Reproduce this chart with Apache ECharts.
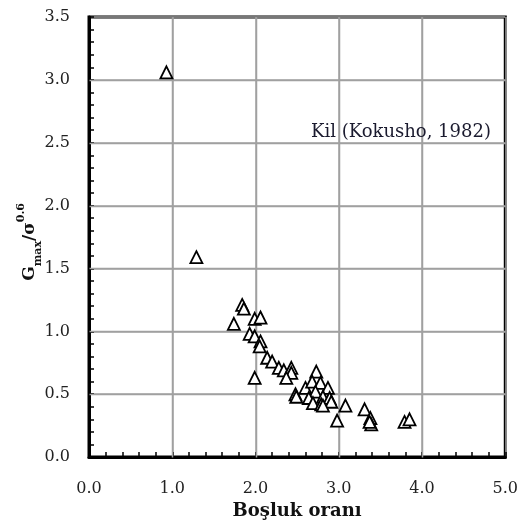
<!DOCTYPE html>
<html><head><meta charset="utf-8">
<script src="https://cdn.jsdelivr.net/npm/echarts@6/dist/echarts.min.js"></script>
<style>html,body{margin:0;padding:0;background:#fff}#c{width:521px;height:525px}</style>
</head><body><div id="c"></div>
<script>
const voidRatio = [0.93,1.29,1.84,1.86,1.74,1.99,2.06,1.93,1.99,2.06,2.05,2.14,2.20,2.28,2.34,2.43,2.43,2.37,1.99,2.48,2.49,2.73,2.60,2.68,2.78,2.72,2.87,2.64,2.81,2.89,2.69,2.79,2.91,2.81,3.08,2.98,3.31,3.38,3.39,3.37,3.79,3.85];
const gRatio    = [3.06,1.59,1.21,1.18,1.06,1.10,1.11,0.98,0.96,0.92,0.88,0.79,0.76,0.71,0.69,0.71,0.67,0.63,0.63,0.50,0.48,0.68,0.55,0.60,0.59,0.52,0.55,0.47,0.48,0.47,0.43,0.42,0.44,0.41,0.41,0.29,0.38,0.31,0.26,0.28,0.28,0.30];
const xTicks = ['0.0','1.0','2.0','3.0','4.0','5.0'];
const yTicks = ['0.0','0.5','1.0','1.5','2.0','2.5','3.0','3.5'];
const note = 'Kil (Kokusho, 1982)';
const xTitle = 'Boşluk oranı';
const yTitle = '{m|G}{sub|max}{m|/σ}{sup|0.6}';

const FONT = 'DejaVu Serif';
const GRAY = '#a0a0a0';
const xMin = Number(xTicks[0]), xMax = Number(xTicks[xTicks.length-1]);
const yMin = Number(yTicks[0]), yMax = Number(yTicks[yTicks.length-1]);
const chart = echarts.init(document.getElementById('c'));
function tick(){ return {show:true, inside:true, length:5, lineStyle:{color:'#000', width:1.5}}; }
function minor(){ return {show:true, splitNumber:5, length:5, lineStyle:{color:'#000', width:1.5}}; }
function split(){ return {show:true, lineStyle:{color:GRAY, width:1.5, type:'solid', opacity:1}}; }
const gridItems = xTicks.slice(1,-1).map(t=>[0, Number(t)])
  .concat(yTicks.slice(1,-1).map(t=>[1, Number(t)]));
chart.setOption({
  animation:false,
  grid:{left:89, right:15, top:17, bottom:66, show:true, borderColor:'#000', borderWidth:3, backgroundColor:'transparent'},
  xAxis:{
    type:'value', min:xMin, max:xMax, interval:1,
    axisLine:{show:true, lineStyle:{color:'#000', width:3}}, splitLine:split(),
    axisTick:tick(), minorTick:minor(),
    axisLabel:{margin:24, fontFamily:FONT, fontSize:16, color:'#222', formatter:(v)=>xTicks[Math.round(v)]},
    name:xTitle, nameLocation:'middle', nameGap:44,
    nameTextStyle:{fontFamily:FONT, fontSize:18, fontWeight:'bold', color:'#111'}
  },
  yAxis:{
    type:'value', min:yMin, max:yMax, interval:0.5,
    axisLine:{show:true, lineStyle:{color:'#000', width:3}}, splitLine:split(),
    axisTick:tick(), minorTick:minor(),
    axisLabel:{margin:19, fontFamily:FONT, fontSize:16, color:'#222', formatter:(v)=>yTicks[Math.round(v*2)]}
  },
  graphic:[{
    type:'text', left:311, top:123, z:10,
    style:{text:note, fontFamily:FONT, fontSize:18, fill:'#1a1a2e'}
  },{
    type:'text', x:30, y:242, rotation:Math.PI/2, z:10,
    style:{text:yTitle, align:'center', verticalAlign:'middle', fill:'#111',
      fontFamily:FONT, fontWeight:'bold', fontSize:17,
      rich:{
        m:{fontFamily:FONT, fontSize:17, fontWeight:'bold', fill:'#111', lineHeight:28},
        sub:{fontFamily:FONT, fontSize:11, fontWeight:'bold', fill:'#111', verticalAlign:'bottom', lineHeight:28, padding:[6,0,0,0]},
        sup:{fontFamily:FONT, fontSize:11, fontWeight:'bold', fill:'#111', verticalAlign:'top', lineHeight:28, padding:[0,0,6,0]}
      }}
  }],
  series:[{
    type:'custom', z:4, silent:true, clip:false,
    data:gridItems,
    renderItem:function(params, api){
      const axis = api.value(0), v = api.value(1);
      const p1 = axis===0 ? api.coord([v, yMin]) : api.coord([xMin, v]);
      const p2 = axis===0 ? api.coord([v, yMax]) : api.coord([xMax, v]);
      return {type:'line', z2:0, shape:{x1:Math.round(p1[0])+0.5, y1:Math.round(p1[1])+0.5, x2:Math.round(p2[0])+0.5, y2:Math.round(p2[1])+0.5},
        style:{stroke:GRAY, lineWidth:1.5, opacity:1}};
    }
  },{
    type:'scatter', z:5,
    data:voidRatio.map((x,i)=>[x,gRatio[i]]),
    symbol:'triangle', symbolSize:[12,12],
    itemStyle:{color:'#fff', borderColor:'#000', borderWidth:1.8, opacity:1}
  }]
});
</script></body></html>
